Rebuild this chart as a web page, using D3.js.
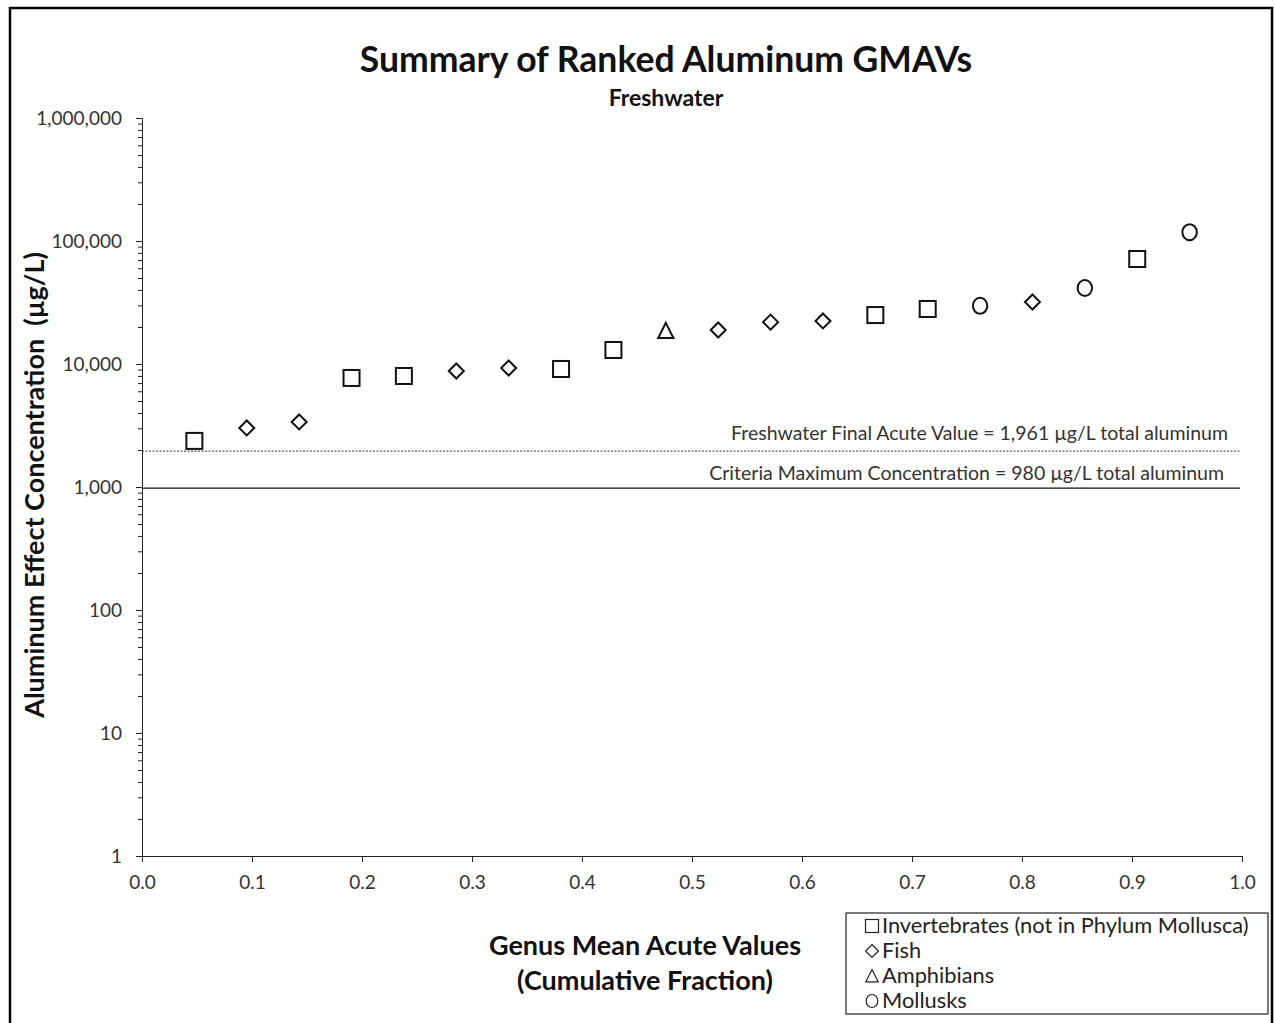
<!DOCTYPE html>
<html>
<head>
<meta charset="utf-8">
<script src="https://cdn.jsdelivr.net/npm/d3@7"></script>
<style>
  body { margin: 0; background: #fff; }
  text { font-family: Lato, "Open Sans", sans-serif; }
</style>
</head>
<body>
<div id="chart"></div>
<script>
// ranked GMAVs
const groups = ["Invertebrates (not in Phylum Mollusca)", "Fish", "Amphibians", "Mollusks"];
const shapes = ["square", "diamond", "triangle", "circle"];
const rankGroup = [0, 1, 1, 0, 0, 1, 1, 0, 0, 2, 1, 1, 1, 0, 0, 3, 1, 3, 0, 3];
const gmav = [2370, 3020, 3380, 7700, 7990, 8770, 9280, 9110, 13000, 18600,
              18900, 21900, 22400, 25000, 28000, 29700, 31900, 41500, 71400, 118000];
const xTicks = [0, 0.1, 0.2, 0.3, 0.4, 0.5, 0.6, 0.7, 0.8, 0.9, 1.0];
const yTicks = [1, 10, 100, 1000, 10000, 100000, 1000000];
const fav = 1961, cmc = 980;

const width = 1275, height = 1023;
const svg = d3.select('#chart').append('svg')
    .attr('width', width)
    .attr('height', height);

// outer frame
svg.append('rect')
    .attr('x', 10).attr('y', 8)
    .attr('width', 1262).attr('height', 1030)
    .attr('fill', 'none').attr('stroke', '#000').attr('stroke-width', 2.5);

const x = d3.scaleLinear().domain([0, 1]).range([142, 1242]);
const y = d3.scaleLog().domain([1, 1000000]).range([856, 118]);

// y axis with minor ticks
const minor = [];
for (let p = 0; p < 6; p++) for (let m = 2; m <= 9; m++) minor.push(m * Math.pow(10, p));

svg.append('g')
    .attr('transform', 'translate(142,0)')
    .call(d3.axisLeft(y).tickValues(minor).tickSize(4).tickFormat(''))
    .call(g => g.select('.domain').remove());

svg.append('g')
    .attr('transform', 'translate(142,0)')
    .call(d3.axisLeft(y).tickValues(yTicks).tickSize(6).tickPadding(14).tickFormat(d3.format(',')))
    .call(g => g.selectAll('text').attr('font-size', 19).attr('fill', '#333')
        .attr('font-family', 'Lato, sans-serif'));

svg.append('g')
    .attr('transform', 'translate(0,856)')
    .call(d3.axisBottom(x).tickValues(xTicks).tickSize(6).tickPadding(14).tickFormat(d3.format('.1f')))
    .call(g => g.selectAll('text').attr('font-size', 19).attr('fill', '#333')
        .attr('font-family', 'Lato, sans-serif'));

svg.selectAll('.domain, .tick line').attr('stroke', '#222');

// reference lines
svg.append('line')
    .attr('x1', x(0)).attr('x2', x(1) - 2)
    .attr('y1', y(fav)).attr('y2', y(fav))
    .attr('stroke', '#555').attr('stroke-width', 1.2).attr('stroke-dasharray', '2,1.5');
svg.append('line')
    .attr('x1', x(0)).attr('x2', x(1) - 2)
    .attr('y1', y(cmc)).attr('y2', y(cmc))
    .attr('stroke', '#111').attr('stroke-width', 1.2);

svg.append('text')
    .attr('x', 1228).attr('y', y(fav) - 11)
    .attr('text-anchor', 'end').attr('font-size', 19.5).attr('fill', '#333')
    .text('Freshwater Final Acute Value = 1,961 µg/L total aluminum');
svg.append('text')
    .attr('x', 1224).attr('y', y(cmc) - 8)
    .attr('text-anchor', 'end').attr('font-size', 19.5).attr('fill', '#333')
    .text('Criteria Maximum Concentration = 980 µg/L total aluminum');

// marker drawing
function marker(sel, shape, s) {
    if (shape === 'square') {
        sel.append('rect').attr('x', -s / 2).attr('y', -s / 2).attr('width', s).attr('height', s);
    } else if (shape === 'diamond') {
        const h = s * 0.5;
        sel.append('path').attr('d', `M0,${-h}L${h},0L0,${h}L${-h},0Z`);
    } else if (shape === 'triangle') {
        const h = s * 0.5;
        sel.append('path').attr('d', `M0,${-h}L${h * 0.95},${h * 0.9}L${-h * 0.95},${h * 0.9}Z`);
    } else {
        sel.append('ellipse').attr('rx', s * 0.45).attr('ry', s * 0.5);
    }
}

const sizes = { square: 16, diamond: 15, triangle: 16, circle: 16 };
const n = gmav.length;
const pts = svg.append('g')
    .attr('fill', 'none').attr('stroke', '#111').attr('stroke-width', 2);

gmav.forEach((v, i) => {
    const shape = shapes[rankGroup[i]];
    const g = pts.append('g').attr('transform', `translate(${x((i + 1) / (n + 1))},${y(v)})`);
    marker(g, shape, sizes[shape]);
});

// titles
svg.append('text')
    .attr('x', 666).attr('y', 72)
    .attr('text-anchor', 'middle').attr('font-size', 35.5).attr('font-weight', 'bold').attr('fill', '#111')
    .text('Summary of Ranked Aluminum GMAVs');
svg.append('text')
    .attr('x', 666).attr('y', 106)
    .attr('text-anchor', 'middle').attr('font-size', 23).attr('font-weight', 'bold').attr('fill', '#111')
    .text('Freshwater');

svg.append('text')
    .attr('transform', 'translate(44,485) rotate(-90)')
    .attr('text-anchor', 'middle').attr('font-size', 27).attr('font-weight', 'bold').attr('fill', '#111')
    .attr('xml:space', 'preserve')
    .text('Aluminum Effect Concentration  (µg/L)');

svg.append('text')
    .attr('x', 645).attr('y', 955)
    .attr('text-anchor', 'middle').attr('font-size', 27).attr('font-weight', 'bold').attr('fill', '#111')
    .text('Genus Mean Acute Values');
svg.append('text')
    .attr('x', 645).attr('y', 990)
    .attr('text-anchor', 'middle').attr('font-size', 27).attr('font-weight', 'bold').attr('fill', '#111')
    .text('(Cumulative Fraction)');

// legend
const legend = svg.append('g');
legend.append('rect')
    .attr('x', 846).attr('y', 913).attr('width', 422).attr('height', 101)
    .attr('fill', '#fff').attr('stroke', '#222').attr('stroke-width', 1.2);

groups.forEach((name, i) => {
    const ly = 926 + i * 25;
    const g = legend.append('g').attr('transform', `translate(872,${ly})`)
        .attr('fill', 'none').attr('stroke', '#222').attr('stroke-width', 1.2);
    marker(g, shapes[i], 13);
    legend.append('text')
        .attr('x', 882).attr('y', ly + 7)
        .attr('font-size', 21.8).attr('fill', '#222')
        .text(name);
});
</script>
</body>
</html>
